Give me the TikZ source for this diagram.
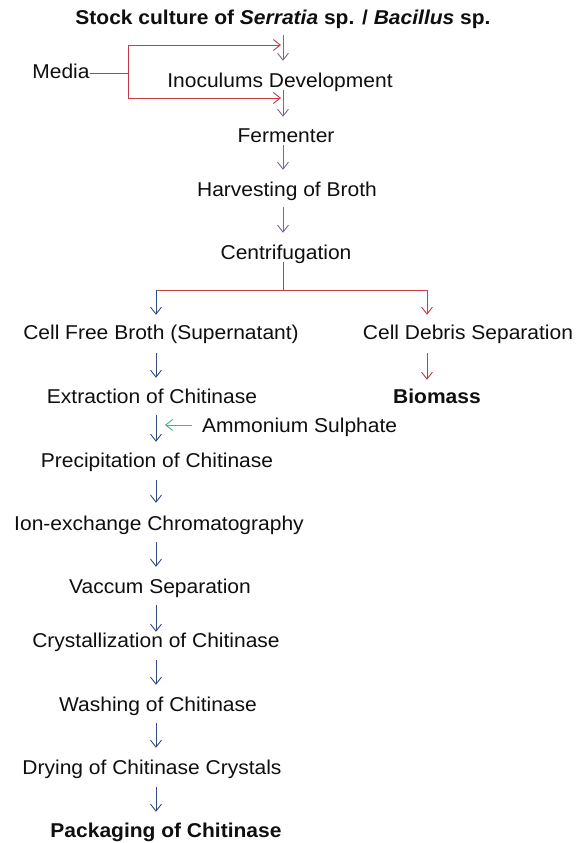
\documentclass[tikz,border=0pt]{standalone}
\usepackage{fontspec}
\setmainfont{Liberation Sans}[FakeStretch=1.05]
\usetikzlibrary{arrows.meta}
\definecolor{cpur}{RGB}{128,100,162}
\definecolor{cred}{RGB}{200,60,70}
\definecolor{cblue}{RGB}{50,75,130}
\definecolor{cgreen}{RGB}{70,180,130}
\definecolor{ctext}{RGB}{15,15,15}
\begin{document}
\begin{tikzpicture}[x=1pt,y=-1pt,
  lbl/.style={inner sep=0pt, anchor=base, text=ctext,
    font=\fontsize{20}{23}\selectfont, text height=14pt, text depth=4pt},
  tip/.style={-{Straight Barb[length=7pt,width=11pt]}},
  parr/.style={draw=cpur, line width=0.9pt, tip},
  rarr/.style={draw=cred, line width=0.9pt, tip},
  rline/.style={draw=cred, line width=0.9pt},
  barr/.style={draw=cblue, line width=0.9pt, tip},
  garr/.style={draw=cgreen, line width=0.9pt, tip}]
\useasboundingbox (0,0) rectangle (577,843);
\fill[white] (0,0) rectangle (577,843);
% column references
\coordinate (colA) at (283,0);
\coordinate (colB) at (156,0);
\coordinate (colC) at (427,0);
% nodes
\node[lbl] (title) at (283,25) {\textbf{Stock culture of \textit{Serratia} sp. / \textit{Bacillus} sp.}};
\node[lbl] (media) at (61,78) {Media};
\node[lbl] (inoc) at (280,88) {Inoculums Development};
\node[lbl] (ferm) at (286,142) {Fermenter};
\node[lbl] (harv) at (287,196) {Harvesting of Broth};
\node[lbl] (cent) at (286,259) {Centrifugation};
\node[lbl] (cfb) at (161,339) {Cell Free Broth (Supernatant)};
\node[lbl] (cds) at (468,339) {Cell Debris Separation};
\node[lbl] (extr) at (152,403) {Extraction of Chitinase};
\node[lbl] (bio) at (437,403) {\textbf{Biomass}};
\node[lbl, anchor=base west] (amm) at (202,432) {Ammonium Sulphate};
\node[lbl] (prec) at (157,467) {Precipitation of Chitinase};
\node[lbl] (ion) at (159,530) {Ion-exchange Chromatography};
\node[lbl] (vac) at (160,593) {Vaccum Separation};
\node[lbl] (cry) at (156,647) {Crystallization of Chitinase};
\node[lbl] (wash) at (158,711) {Washing of Chitinase};
\node[lbl] (dry) at (152,774) {Drying of Chitinase Crystals};
\node[lbl] (pack) at (166,837) {\textbf{Packaging of Chitinase}};
% media bracket
\coordinate (rt) at (128,45);
\coordinate (rb) at (128,98);
\draw[rline] (media.east) -- (media.east -| rt);
\draw[rline] (rt) -- (rb);
\draw[rarr] (rt) -- ([xshift=-2pt]rt -| colA);
\draw[rarr] (rb) -- ([xshift=-2pt]rb -| colA);
% upper purple arrows
\draw[parr] ([yshift=-6pt]title.south -| colA) -- ([yshift=13pt]inoc.north -| colA);
\draw[parr] ([yshift=2pt]inoc.south -| colA) -- ([yshift=11pt]ferm.north -| colA);
\draw[parr] ([yshift=1pt]ferm.south -| colA) -- ([yshift=12pt]harv.north -| colA);
\draw[parr] ([yshift=-7pt]harv.south -| colA) -- ([yshift=12pt]cent.north -| colA);
% split
\coordinate (brL) at (156,290);
\coordinate (brR) at (427,290);
\draw[rline] ([yshift=1pt]cent.south -| colA) -- (colA |- brL);
\draw[rline] (brL) -- (brR);
\draw[barr] (brL) -- ([yshift=10pt]cfb.north -| brL);
\draw[rarr] (brR) -- ([yshift=10pt]cds.north -| brR);
% right branch
\draw[rarr] ([yshift=-10pt]cds.south -| colC) -- ([yshift=9pt]bio.north -| colC);
% left branch
\draw[barr] ([yshift=-10pt]cfb.south -| colB) -- ([yshift=11pt]extr.north -| colB);
\draw[barr] ([yshift=-8pt]extr.south -| colB) -- ([yshift=11pt]prec.north -| colB);
\coordinate (gtip) at (165,425);
\draw[garr] ([xshift=-10pt,yshift=2pt]amm.west) -- (gtip);
\draw[barr] ([yshift=-9pt]prec.south -| colB) -- ([yshift=13pt]ion.north -| colB);
\draw[barr] ([yshift=-8pt]ion.south -| colB) -- ([yshift=12pt]vac.north -| colB);
\draw[barr] ([yshift=-8pt]vac.south -| colB) -- ([yshift=1pt]cry.north -| colB);
\draw[barr] ([yshift=-9pt]cry.south -| colB) -- ([yshift=12pt]wash.north -| colB);
\draw[barr] ([yshift=-8pt]wash.south -| colB) -- ([yshift=12pt]dry.north -| colB);
\draw[barr] ([yshift=-9pt]dry.south -| colB) -- ([yshift=11pt]pack.north -| colB);
\end{tikzpicture}
\end{document}
